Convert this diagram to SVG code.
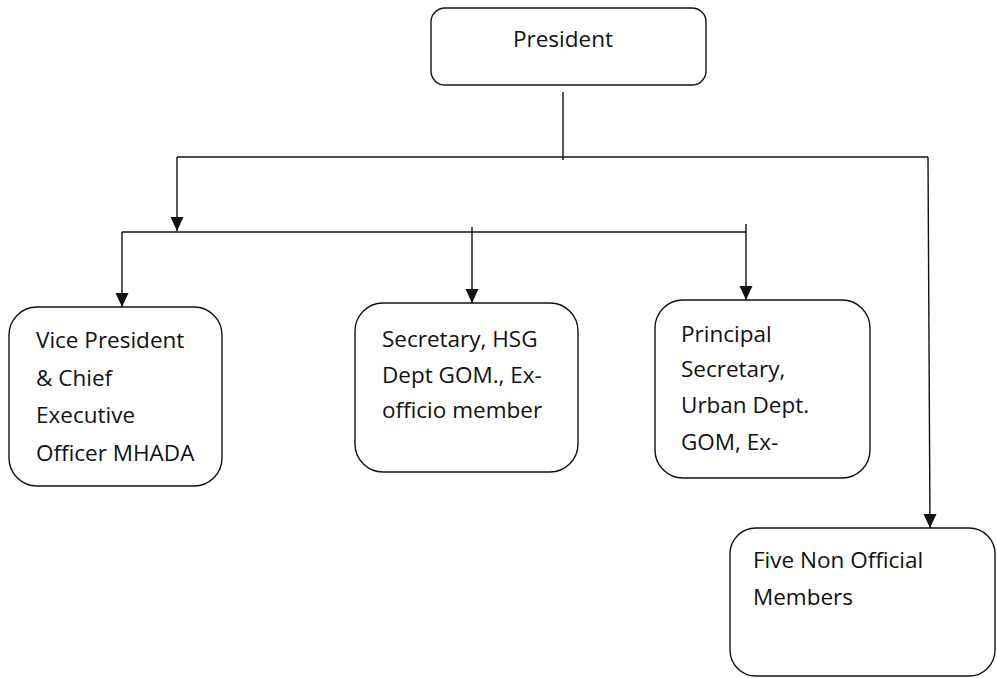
<svg xmlns="http://www.w3.org/2000/svg" width="997" height="678" viewBox="0 0 997 678">
  <style>
    .box { fill: #ffffff; stroke: #111111; stroke-width: 1.4; }
    .lbl { font-family: "Open Sans", "Liberation Sans", sans-serif; font-size: 22.5px; fill: #111111; }
    .wire { fill: none; stroke: #111111; stroke-width: 1.4; }
  </style>
  <defs>
    <marker id="ahd" markerUnits="userSpaceOnUse" markerWidth="14" markerHeight="14" viewBox="0 0 14 14" refX="7" refY="14" orient="0">
      <path d="M0.5,0 L13.5,0 L7,14 Z" fill="#111111"/>
    </marker>
  </defs>

  <g id="connectors">
    <line class="wire" x1="563" y1="92" x2="563" y2="160"/>
    <line class="wire" x1="177" y1="157" x2="928" y2="157"/>
    <line class="wire" x1="177" y1="157" x2="177" y2="231" marker-end="url(#ahd)"/>
    <line class="wire" x1="928" y1="157" x2="930" y2="528" marker-end="url(#ahd)"/>
    <line class="wire" x1="122" y1="232" x2="746" y2="232"/>
    <line class="wire" x1="122" y1="232" x2="122" y2="307" marker-end="url(#ahd)"/>
    <line class="wire" x1="472" y1="227" x2="472" y2="303" marker-end="url(#ahd)"/>
    <line class="wire" x1="746" y1="224" x2="746" y2="300" marker-end="url(#ahd)"/>
  </g>

  <g id="president">
    <rect class="box" x="431" y="8" width="275" height="77" rx="14" ry="14"/>
    <text class="lbl" x="563" y="47" text-anchor="middle" font-size="24">President</text>
  </g>

  <g id="vice-president">
    <rect class="box" x="9" y="307" width="213" height="179" rx="28" ry="28"/>
    <text class="lbl" x="36" y="348">Vice President</text>
    <text class="lbl" x="36" y="386">&amp; Chief</text>
    <text class="lbl" x="36" y="423">Executive</text>
    <text class="lbl" x="36" y="461">Officer MHADA</text>
  </g>

  <g id="secretary-hsg">
    <rect class="box" x="355" y="303" width="223" height="169" rx="28" ry="28"/>
    <text class="lbl" x="382" y="347">Secretary, HSG</text>
    <text class="lbl" x="382" y="383">Dept GOM., Ex-</text>
    <text class="lbl" x="382" y="418">officio member</text>
  </g>

  <g id="principal-secretary">
    <rect class="box" x="655" y="300" width="215" height="178" rx="28" ry="28"/>
    <text class="lbl" x="681" y="342">Principal</text>
    <text class="lbl" x="681" y="377">Secretary,</text>
    <text class="lbl" x="681" y="413">Urban Dept.</text>
    <text class="lbl" x="681" y="450">GOM, Ex-</text>
  </g>

  <g id="non-official">
    <rect class="box" x="730" y="528" width="265" height="148" rx="26" ry="26"/>
    <text class="lbl" x="753" y="568">Five Non Official</text>
    <text class="lbl" x="753" y="605">Members</text>
  </g>
</svg>
